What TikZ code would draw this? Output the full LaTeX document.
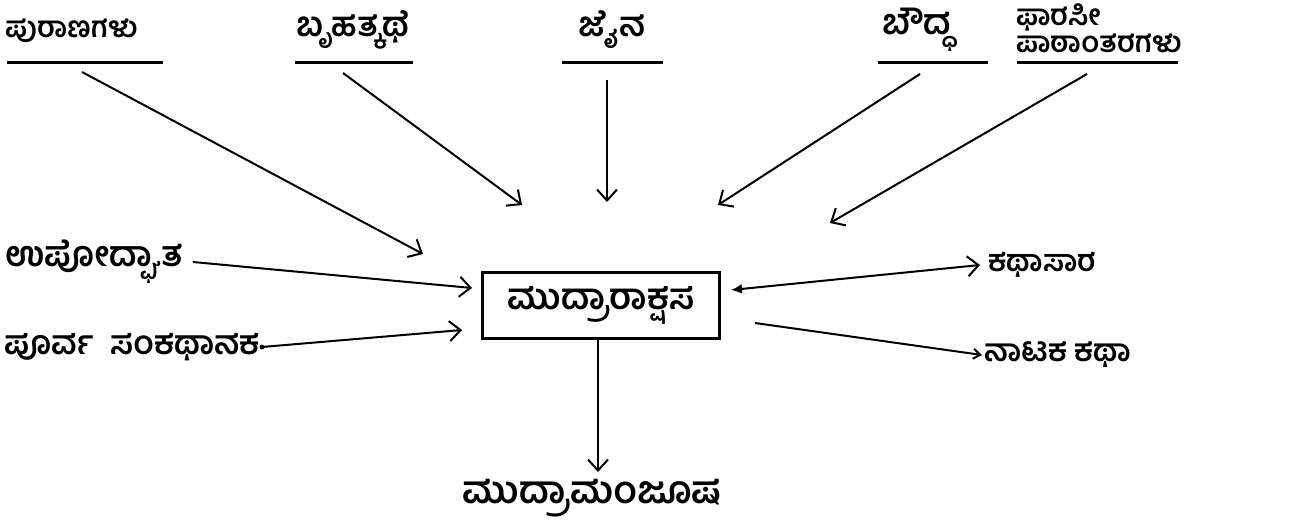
\documentclass[tikz,border=0pt]{standalone}
\usepackage{fontspec}
\newfontfamily\kan[Script=Kannada]{Hind Mysuru}
\usetikzlibrary{arrows.meta}
\newcommand\kfont[1]{\kan\bfseries\fontsize{#1}{#1}\selectfont}
\tikzset{
  lbl/.style={font=\kfont{30}, inner sep=2pt},
  conn/.style={line width=2pt, -{Straight Barb[length=11pt,width=20pt,line width=2pt]}},
  uline/.style={line width=3pt},
  mainbox/.style={draw, line width=3pt, minimum width=237pt, minimum height=66pt, inner sep=4pt}
}
\begin{document}
\begin{tikzpicture}[x=1pt,y=-1pt]
\useasboundingbox (0,0) rectangle (1289,529);

% sources along the top
\node[lbl, font=\kfont{29}] (pur) at (72,31) {ಪುರಾಣಗಳು};
\node[lbl, font=\kfont{34}] (bru) at (353,30) {ಬೃಹತ್ಕಥೆ};
\node[lbl, font=\kfont{34}] (jai) at (612,30) {ಜೈನ};
\node[lbl, font=\kfont{35}] (bau) at (917,30) {ಬೌದ್ಧ};
\node[lbl, anchor=west, align=left, font=\kfont{29}, inner sep=0pt] (far) at (1016,28) {ಫಾರಸೀ\\[-2pt]ಪಾಠಾಂತರಗಳು};

\draw[uline] (7,63) -- (163,63);
\draw[uline] (295,63) -- (413,63);
\draw[uline] (562,63) -- (663,63);
\draw[uline] (878,63) -- (988,63);
\draw[uline] (1017,63) -- (1178,63);

% side labels, central play and derived works
\node[lbl, font=\kfont{35}] (upo) at (94,262) {ಉಪೋದ್ಘಾತ};
\node[lbl, anchor=east, font=\kfont{33}] (pvs) at (262,347) {ಪೂರ್ವ\ \ ಸಂಕಥಾನಕ};
\node[mainbox, lbl, font=\kfont{36}] (mud) at (601,305) {ಮುದ್ರಾರಾಕ್ಷಸ};
\node[lbl, anchor=west] (kat) at (986,265) {ಕಥಾಸಾರ};
\node[lbl, anchor=west, font=\kfont{31}] (nat) at (982,355) {ನಾಟಕ\ ಕಥಾ};
\node[lbl, font=\kfont{38}] (man) at (592,498) {ಮುದ್ರಾಮಂಜೂಷ};

% connector end points
\coordinate (s1) at (82,72);   \coordinate (t1) at (423,254);
\coordinate (s2) at (343,73);  \coordinate (t2) at (522,205);
\coordinate (s3) at (607,80);  \coordinate (t3) at (607,202);
\coordinate (s4) at (920,74);  \coordinate (t4) at (718,205);
\coordinate (s5) at (1087,74); \coordinate (t5) at (830,223);
\coordinate (t6) at (472,288);
\coordinate (t7) at (462,330);
\coordinate (s8) at (731,290);
\coordinate (s9) at (755,323);
\coordinate (t10) at (598,472);

\draw[conn] (s1) -- (t1);
\draw[conn] (s2) -- (t2);
\draw[conn] (s3) -- (t3);
\draw[conn] (s4) -- (t4);
\draw[conn] (s5) -- (t5);
\draw[conn] (upo.east) ++(8,0) -- (t6);
\draw[conn] (pvs.east) -- (t7);
\fill (pvs.east) circle (2.4pt);
\draw[line width=2pt, {Latex[length=11pt,width=10pt]}-{Straight Barb[length=11pt,width=20pt,line width=2pt]}] (s8) -- ([xshift=-6pt]kat.west);
\draw[line width=2pt, -{Straight Barb[length=7pt,width=10pt,line width=2pt]}] (s9) -- (nat.west);
\draw[conn] (mud.south -| t10) -- (t10);
\end{tikzpicture}
\end{document}
